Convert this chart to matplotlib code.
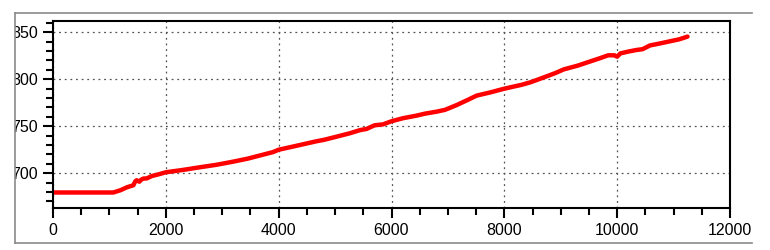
import matplotlib.pyplot as plt
from matplotlib.lines import Line2D
from matplotlib.patches import Rectangle
from matplotlib.ticker import MultipleLocator

# values
x_vals = [0, 1070, 1200, 1308, 1424, 1460, 1483, 1530, 1560, 1601, 1663, 1750,
          1850, 2000, 2300, 2609, 2900, 3200, 3450, 3675, 3900, 4000, 4300, 4669,
          4800, 5000, 5260, 5450, 5556, 5700, 5850, 6000, 6200, 6444, 6600, 6799,
          6950, 7154, 7350, 7509, 7750, 7982, 8112, 8300, 8465, 8700, 8900, 9053,
          9300, 9524, 9700, 9840, 9950, 10000, 10056, 10200, 10347, 10450, 10582,
          10750, 10935, 11100, 11247]
y_vals = [679.5, 679.5, 682.0, 685.0, 687.2, 691.5, 692.5, 691.0, 693.0, 694.3,
          694.5, 697.0, 698.5, 701.0, 703.5, 706.4, 709.0, 712.4, 715.5, 719.0,
          722.5, 725.0, 729.0, 734.0, 735.5, 738.5, 742.5, 746.0, 747.1, 751.0,
          752.0, 755.3, 758.5, 761.3, 763.5, 765.5, 767.5, 772.5, 778.0, 782.6,
          786.0, 789.7, 791.5, 794.0, 796.8, 802.0, 806.5, 810.5, 814.5, 819.0,
          822.5, 825.5, 825.5, 824.0, 827.5, 829.5, 831.2, 832.0, 836.0, 838.0,
          840.4, 842.5, 845.4]
x_ticks = [0, 2000, 4000, 6000, 8000, 10000, 12000]
y_ticks = [700, 750, 800, 850]

plt.rcParams['font.family'] = ['Liberation Sans', 'DejaVu Sans']

fig = plt.figure(figsize=(7.7, 2.5), dpi=100)
ax = fig.add_axes([53 / 770, 1 - 208 / 250, 677 / 770, 187 / 250])

ax.plot(x_vals, y_vals, color='#ff0000', lw=3.2, solid_capstyle='round',
        solid_joinstyle='round')

ax.set_xlim(0, 12000)
ax.set_ylim(663, 862)
ax.set_xticks(x_ticks)
ax.set_yticks(y_ticks)
ax.xaxis.set_minor_locator(MultipleLocator(500))
ax.yaxis.set_minor_locator(MultipleLocator(10))
ax.tick_params(which='major', direction='out', length=7, width=1.5, labelsize=11.5, pad=4)
ax.tick_params(which='minor', direction='out', length=5, width=1.5)
ax.grid(True, which='major', linestyle=(0, (1.5, 3)), color='#555555', lw=0.9)
for sp in ax.spines.values():
    sp.set_linewidth(1.5)

# grey frame round the picture, labels cut off at its left edge
fig.patches.append(Rectangle((0, 0), 14 / 770, 1, transform=fig.transFigure,
                             color='white', zorder=10))
frame = dict(transform=fig.transFigure, color='#8a8a8a', lw=1.2, zorder=11)
fig.lines.append(Line2D([15 / 770, 752 / 770], [1 - 13 / 250, 1 - 13 / 250], **frame))
fig.lines.append(Line2D([15 / 770, 752 / 770], [1 - 243 / 250, 1 - 243 / 250], **frame))
fig.lines.append(Line2D([15 / 770, 15 / 770], [1 - 13 / 250, 1 - 243 / 250], **frame))

fig.savefig('out.png', dpi=100)
